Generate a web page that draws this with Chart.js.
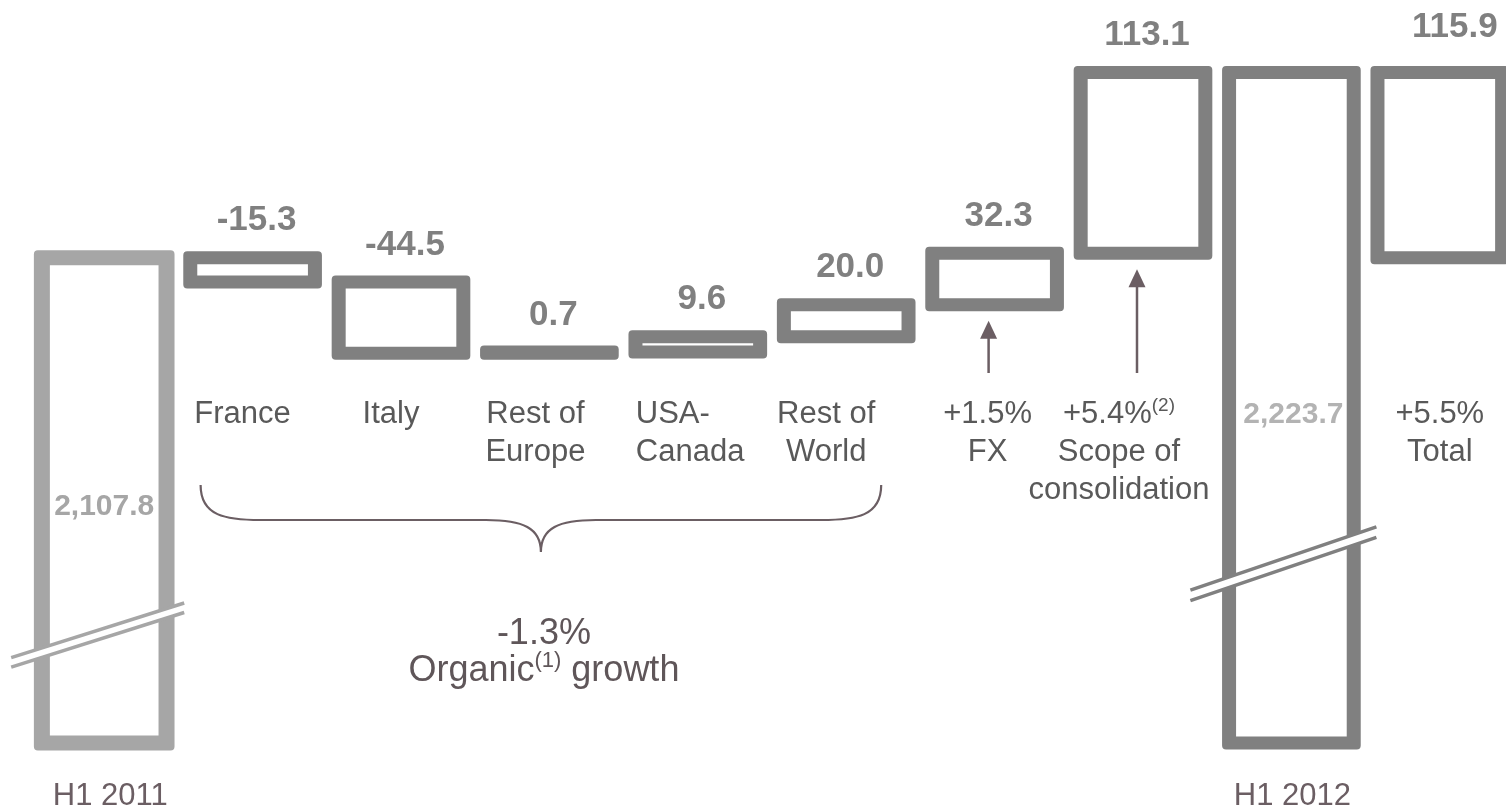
<!DOCTYPE html>
<html>
<head>
<meta charset="utf-8">
<script src="https://cdn.jsdelivr.net/npm/chart.js@4"></script>
<style>
  html, body { margin: 0; padding: 0; background: #fff; overflow: hidden; }
  #wrap { width: 1514px; height: 809px; }
</style>
</head>
<body>
<div id="wrap"><canvas id="bridge" width="1514" height="809"></canvas></div>
<script>
// revenue bridge H1 2011 -> H1 2012
var categories = ['H1 2011', 'France', 'Italy', 'Rest of Europe', 'USA-Canada', 'Rest of World', 'FX', 'Scope of consolidation', 'H1 2012', 'Total'];
var openingValue = 2107.8;
var closingValue = 2223.7;
var changes = [-15.3, -44.5, 0.7, 9.6, 20.0, 32.3, 113.1]; // France .. Scope
var totalChange = 115.9;

// lines under each bar, "|" marks a superscript
var tickLines = [
  [],
  ['France'],
  ['Italy'],
  ['Rest of', 'Europe'],
  ['USA-', 'Canada'],
  ['Rest of', 'World'],
  ['+1.5%', 'FX'],
  ['+5.4%|(2)', 'Scope of', 'consolidation'],
  [],
  ['+5.5%', 'Total']
];
var periodLabels = ['H1 2011', 'H1 2012'];
var organicLines = ['-1.3%', 'Organic|(1)| growth'];

var Y_MIN = 1804, Y_MAX = 2269.1;

// floating bars for the waterfall
var bars = [[Y_MIN, openingValue]];
var running = openingValue;
changes.forEach(function (c) {
  bars.push([running, running + c]);
  running += c;
});
bars.push([Y_MIN, closingValue]);
bars.push([openingValue, openingValue + totalChange]);

var values = [openingValue].concat(changes, [closingValue, totalChange]);

function fmt(v) {
  return v.toLocaleString('en-US', { minimumFractionDigits: 1, maximumFractionDigits: 1 });
}

var FONT = '"Liberation Sans", Arial, sans-serif';
var DARK = '#808080', LIGHT = '#a6a6a6', TEXT = '#595959', NOTE = '#6b5e63';

function roundRectPath(ctx, x, y, w, h, r) {
  r = Math.min(r, w / 2, h / 2);
  ctx.moveTo(x + r, y);
  ctx.lineTo(x + w - r, y);
  ctx.arcTo(x + w, y, x + w, y + r, r);
  ctx.lineTo(x + w, y + h - r);
  ctx.arcTo(x + w, y + h, x + w - r, y + h, r);
  ctx.lineTo(x + r, y + h);
  ctx.arcTo(x, y + h, x, y + h - r, r);
  ctx.lineTo(x, y + r);
  ctx.arcTo(x, y, x + r, y, r);
  ctx.closePath();
}

// hollow box, stroke centred on the bar outline
function ring(ctx, l, t, r, b, sv, sh, color) {
  ctx.beginPath();
  roundRectPath(ctx, l - sv / 2, t - sh / 2, (r - l) + sv, (b - t) + sh, 4);
  var il = l + sv / 2, ir = r - sv / 2, it = t + sh / 2, ib = b - sh / 2;
  if (ib - it > 0.5 && ir - il > 0.5) {
    ctx.rect(il, it, ir - il, ib - it);
  }
  ctx.fillStyle = color;
  ctx.fill('evenodd');
}

// text with optional superscript parts (split by "|")
function richText(ctx, str, x, y, size, color, align, weight) {
  var parts = str.split('|');
  var supSize = Math.round(size * 0.6);
  var widths = parts.map(function (p, k) {
    ctx.font = (weight || '') + ' ' + (k % 2 ? supSize : size) + 'px ' + FONT;
    return ctx.measureText(p).width;
  });
  var total = widths.reduce(function (a, b) { return a + b; }, 0);
  var cx = align === 'left' ? x : x - total / 2;
  ctx.fillStyle = color;
  ctx.textAlign = 'left';
  ctx.textBaseline = 'alphabetic';
  parts.forEach(function (p, k) {
    var sup = k % 2 === 1;
    ctx.font = (weight || '') + ' ' + (sup ? supSize : size) + 'px ' + FONT;
    ctx.fillText(p, cx, sup ? y - size * 0.4 : y);
    cx += widths[k];
  });
}

function breakMark(ctx, cx, cy, left, right, slope, gap, color) {
  var x1 = cx - left, x2 = cx + right;
  var y1 = cy - slope * left, y2 = cy + slope * right;
  var ang = Math.atan(Math.abs(slope));
  ctx.lineCap = 'butt';
  ctx.strokeStyle = '#ffffff';
  ctx.lineWidth = gap * Math.cos(ang);
  ctx.beginPath(); ctx.moveTo(x1, y1); ctx.lineTo(x2, y2); ctx.stroke();
  ctx.strokeStyle = color;
  ctx.lineWidth = 3.5;
  [-gap / 2, gap / 2].forEach(function (d) {
    ctx.beginPath(); ctx.moveTo(x1, y1 + d); ctx.lineTo(x2, y2 + d); ctx.stroke();
  });
}

function arrowUp(ctx, x, tipY, tailY) {
  ctx.strokeStyle = NOTE;
  ctx.fillStyle = NOTE;
  ctx.lineWidth = 2.5;
  ctx.beginPath(); ctx.moveTo(x, tailY); ctx.lineTo(x, tipY + 14); ctx.stroke();
  ctx.beginPath();
  ctx.moveTo(x, tipY); ctx.lineTo(x - 8.5, tipY + 18); ctx.lineTo(x + 8.5, tipY + 18);
  ctx.closePath(); ctx.fill();
}

var bridgePlugin = {
  id: 'bridge',
  afterDatasetsDraw: function (chart) {
    var ctx = chart.ctx;
    var meta = chart.getDatasetMeta(0);
    var xs = chart.scales.x;
    ctx.save();

    meta.data.forEach(function (bar, i) {
      var half = bar.width / 2;
      var top = Math.min(bar.y, bar.base), bottom = Math.max(bar.y, bar.base);
      var first = i === 0;
      ring(ctx, bar.x - half, top, bar.x + half, bottom,
        first ? 16 : 14, first ? 15 : 13, first ? LIGHT : DARK);
    });

    // axis breaks on the two period bars
    var b0 = meta.data[0], b8 = meta.data[8];
    breakMark(ctx, b0.x, b0.base - 110, 93, 80, -0.316, 9.5, LIGHT);
    breakMark(ctx, b8.x, b8.base - 182, 101, 85, -0.34, 10.5, DARK);

    // value labels
    meta.data.forEach(function (bar, i) {
      var top = Math.min(bar.y, bar.base);
      var txt = fmt(values[i]);
      if (i === 0) {
        richText(ctx, txt, bar.x, 515, 30, LIGHT, 'center', 'bold');
      } else if (i === 8) {
        richText(ctx, txt, bar.x + 2, 423, 30, '#b3b3b3', 'center', 'bold');
      } else if (i === 9) {
        richText(ctx, txt, bar.x + 15, top - 35.5, 35, DARK, 'center', 'bold');
      } else {
        richText(ctx, txt, bar.x + 4, top - 27.5, 35, DARK, 'center', 'bold');
      }
    });

    // category labels
    var dx = [0, -10, -10, -14, 0, -20, -7, -24, 0, 0];
    tickLines.forEach(function (lines, i) {
      var bar = meta.data[i];
      lines.forEach(function (line, k) {
        var y = 423 + k * 38;
        if (i === 4) {
          richText(ctx, line, bar.x - 62, y, 31, TEXT, 'left');
        } else {
          richText(ctx, line, bar.x + dx[i], y, 31, TEXT, 'center');
        }
      });
    });

    // period labels
    richText(ctx, periodLabels[0], meta.data[0].x + 6, 805, 31, NOTE, 'center');
    richText(ctx, periodLabels[1], meta.data[8].x + 1, 805, 31, NOTE, 'center');

    // arrows for FX and scope
    [6, 7].forEach(function (i) {
      var bar = meta.data[i];
      var bottom = Math.max(bar.y, bar.base);
      arrowUp(ctx, bar.x - 6, bottom + 16, 373);
    });

    // brace over the organic categories
    var bl = xs.getPixelForValue(1) - 52, br = xs.getPixelForValue(5) + 35;
    var mid = (bl + br) / 2;
    var yTop = 485, yFlat = 520, yTip = 552;
    ctx.strokeStyle = NOTE;
    ctx.lineWidth = 2.2;
    ctx.beginPath();
    ctx.moveTo(bl, yTop);
    ctx.bezierCurveTo(bl, yFlat - 4, bl + 25, yFlat, bl + 60, yFlat);
    ctx.lineTo(mid - 55, yFlat);
    ctx.bezierCurveTo(mid - 18, yFlat, mid, yFlat + 8, mid, yTip);
    ctx.bezierCurveTo(mid, yFlat + 8, mid + 18, yFlat, mid + 55, yFlat);
    ctx.lineTo(br - 60, yFlat);
    ctx.bezierCurveTo(br - 25, yFlat, br, yFlat - 4, br, yTop);
    ctx.stroke();

    richText(ctx, organicLines[0], mid + 3, 644, 36, '#5f5659', 'center');
    richText(ctx, organicLines[1], mid + 3, 681, 36, '#5f5659', 'center');

    ctx.restore();
  }
};

new Chart(document.getElementById('bridge'), {
  type: 'bar',
  data: {
    labels: categories,
    datasets: [{
      data: bars,
      backgroundColor: 'rgba(0,0,0,0)',
      borderWidth: 0,
      barPercentage: 0.84,
      categoryPercentage: 1
    }]
  },
  options: {
    responsive: false,
    animation: false,
    devicePixelRatio: 1,
    layout: { padding: { left: 30, right: 0, top: 0, bottom: 66 } },
    plugins: { legend: { display: false }, tooltip: { enabled: false } },
    scales: {
      x: { display: false },
      y: { display: false, min: Y_MIN, max: Y_MAX }
    }
  },
  plugins: [bridgePlugin]
});
</script>
</body>
</html>
